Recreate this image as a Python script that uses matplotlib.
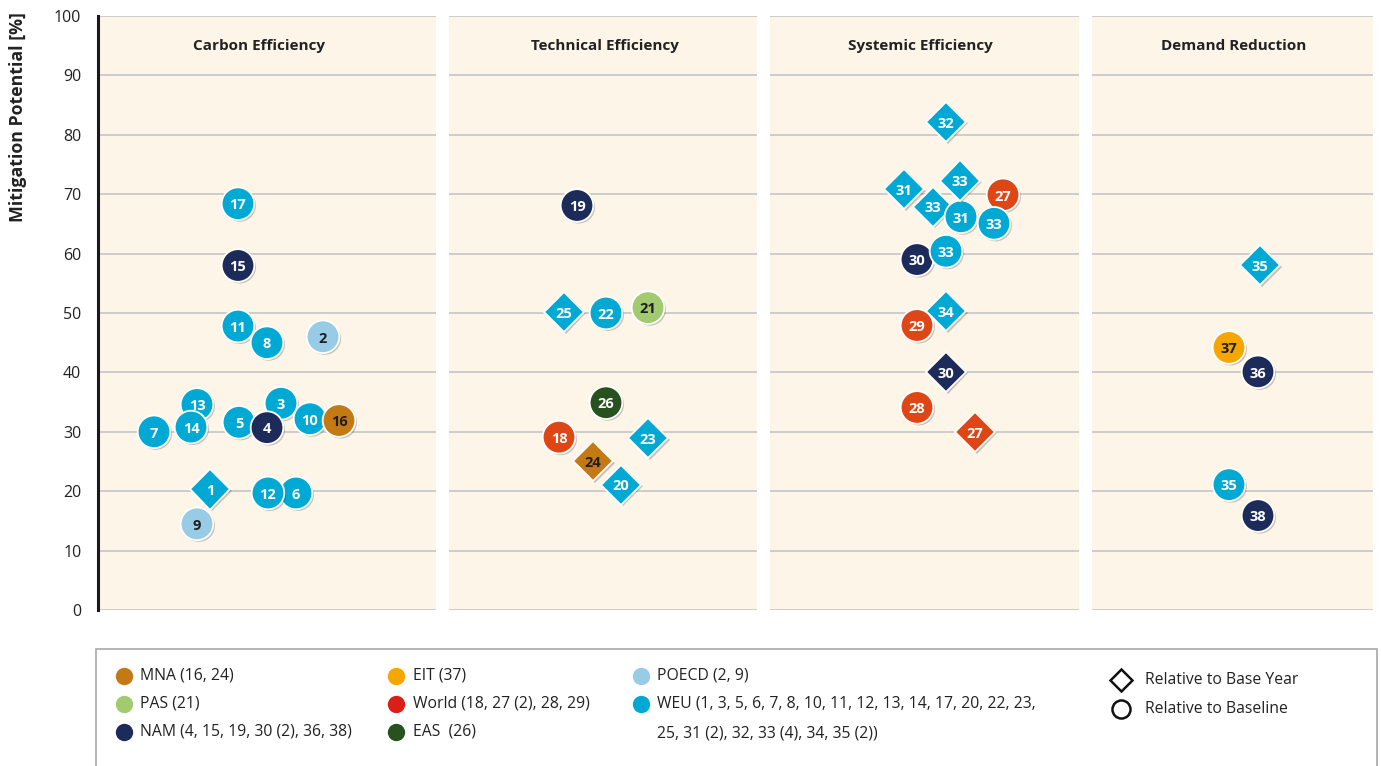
import matplotlib
matplotlib.use('Agg')
import matplotlib.pyplot as plt
import matplotlib.patheffects as pe
from matplotlib.patches import Rectangle

plt.rcParams['font.family'] = ['Open Sans', 'DejaVu Sans']

# ---------------- data ----------------
panel_titles = ['Carbon Efficiency', 'Technical Efficiency', 'Systemic Efficiency', 'Demand Reduction']

# Carbon Efficiency
ce_labels = ['17', '15', '11', '8', '2', '13', '14', '7', '3', '5', '4', '10', '16', '1', '6', '12', '9']
ce_values = [68.4, 58.0, 47.8, 45.0, 46.0, 34.6, 30.8, 30.0, 34.8, 31.6, 30.7, 32.2, 31.9, 20.3, 19.7, 19.7, 14.5]
ce_xpos = [140, 140, 140, 169, 225, 99, 93, 56, 183, 141, 169, 212, 241, 112, 198, 170, 99]
ce_region = ['WEU', 'NAM', 'WEU', 'WEU', 'POECD', 'WEU', 'WEU', 'WEU', 'WEU', 'WEU', 'NAM', 'WEU', 'MNA',
             'WEU', 'WEU', 'WEU', 'POECD']
ce_basis = ['baseline'] * 13 + ['base_year'] + ['baseline'] * 3

# Technical Efficiency
te_labels = ['19', '25', '22', '21', '26', '18', '23', '24', '20']
te_values = [68.1, 50.2, 50.0, 50.9, 34.9, 29.1, 28.9, 25.1, 21.1]
te_xpos = [128, 115, 157, 199, 157, 110, 199, 144, 172]
te_region = ['NAM', 'WEU', 'WEU', 'PAS', 'EAS', 'World', 'WEU', 'MNA', 'WEU']
te_basis = ['baseline', 'base_year', 'baseline', 'baseline', 'baseline', 'baseline', 'base_year',
            'base_year', 'base_year']

# Systemic Efficiency
se_labels = ['32', '31', '33', '31', '33', '27', '33', '30', '33', '29', '34', '30', '28', '27']
se_values = [82.2, 70.9, 67.9, 66.2, 72.3, 69.9, 65.1, 59.0, 60.4, 47.9, 50.3, 40.1, 34.1, 30.0]
se_xpos = [176, 134, 163, 191, 190, 233, 224, 147, 176, 147, 176, 176, 147, 205]
se_region = ['WEU', 'WEU', 'WEU', 'WEU', 'WEU', 'World', 'WEU', 'NAM', 'WEU', 'World', 'WEU', 'NAM',
             'World', 'World']
se_basis = ['base_year', 'base_year', 'base_year', 'baseline', 'base_year', 'baseline', 'baseline',
            'baseline', 'baseline', 'baseline', 'base_year', 'base_year', 'baseline', 'base_year']

# Demand Reduction
dr_labels = ['35', '37', '36', '35', '38']
dr_values = [58.1, 44.2, 40.1, 21.1, 15.9]
dr_xpos = [168, 137, 166, 137, 166]
dr_region = ['WEU', 'EIT', 'NAM', 'WEU', 'NAM']
dr_basis = ['base_year', 'baseline', 'baseline', 'baseline', 'baseline']

y_ticks = [0, 10, 20, 30, 40, 50, 60, 70, 80, 90, 100]

legend_cols = [
    [('MNA', 'MNA (16, 24)'), ('PAS', 'PAS (21)'), ('NAM', 'NAM (4, 15, 19, 30 (2), 36, 38)')],
    [('EIT', 'EIT (37)'), ('World', 'World (18, 27 (2), 28, 29)'), ('EAS', 'EAS  (26)')],
    [('POECD', 'POECD (2, 9)'),
     ('WEU', 'WEU (1, 3, 5, 6, 7, 8, 10, 11, 12, 13, 14, 17, 20, 22, 23,\n25, 31 (2), 32, 33 (4), 34, 35 (2))')],
]
shape_legend = [('base_year', 'Relative to Base Year'), ('baseline', 'Relative to Baseline')]

# ---------------- styles ----------------
marker_colors = {'WEU': '#00A9D3', 'NAM': '#1C2B59', 'World': '#DE4715', 'MNA': '#C47A14',
                 'PAS': '#A2CB70', 'EAS': '#27511F', 'EIT': '#F5A700', 'POECD': '#98CBE6'}
legend_colors = dict(marker_colors)
legend_colors['World'] = '#D91F18'
dark_text = {'MNA', 'PAS', 'EIT', 'POECD'}

W, H = 1381, 766
fig = plt.figure(figsize=(W / 100, H / 100), dpi=100)
fig.patch.set_facecolor('white')

panels_px = [(98, 436), (449, 757), (770, 1079), (1092, 1373)]
title_x_px = [259, 605, 920, 1234]
top_px, bot_px = 16, 610

panel_data = [
    (ce_labels, ce_values, ce_xpos, ce_region, ce_basis),
    (te_labels, te_values, te_xpos, te_region, te_basis),
    (se_labels, se_values, se_xpos, se_region, se_basis),
    (dr_labels, dr_values, dr_xpos, dr_region, dr_basis),
]

shadow = [pe.SimplePatchShadow(offset=(1.2, -1.2), shadow_rgbFace='#000000', alpha=0.22), pe.Normal()]

for i, ((l, r), title, tx, data) in enumerate(zip(panels_px, panel_titles, title_x_px, panel_data)):
    ax = fig.add_axes([l / W, 1 - bot_px / H, (r - l) / W, (bot_px - top_px) / H])
    ax.set_facecolor('#FDF5E8')
    ax.set_xlim(0, r - l)
    ax.set_ylim(0, 100)
    ax.set_yticks(y_ticks)
    ax.set_xticks([])
    for t in y_ticks:
        ax.axhline(t, color='#C9C9C9', lw=1.3, zorder=0)
    for s in ['top', 'right', 'bottom']:
        ax.spines[s].set_visible(False)
    if i == 0:
        ax.spines['left'].set_linewidth(2.2)
        ax.spines['left'].set_color('#1A1A1A')
        ax.spines['left'].set_zorder(5)
        ax.tick_params(axis='y', length=0, pad=12, labelsize=11.5, labelcolor='#222222')
    else:
        ax.spines['left'].set_visible(False)
        ax.tick_params(axis='y', length=0, labelleft=False)
    ax.text(tx - l, 95, title, ha='center', va='center', fontsize=11, fontweight='bold', color='#222222')
    labels, values, xpos, region, basis = data
    for k, (lab, v, x, reg, b) in enumerate(zip(labels, values, xpos, region, basis)):
        z = 10 + 2 * k
        if b == 'base_year':
            ax.plot([x], [v], marker='D', ms=20.5, mfc=marker_colors[reg], mec='white', mew=1.3,
                    ls='none', zorder=z, path_effects=shadow, clip_on=False)
        else:
            ax.plot([x], [v], marker='o', ms=23.5, mfc=marker_colors[reg], mec='white', mew=1.3,
                    ls='none', zorder=z, path_effects=shadow, clip_on=False)
        tc = '#1E1E1E' if reg in dark_text else 'white'
        ax.text(x, v - 0.3, lab, ha='center', va='center', fontsize=10.5, fontweight='bold', color=tc,
                zorder=z + 1)

fig.text(18 / W, 1 - 12 / H, 'Mitigation Potential [%]', rotation=90, ha='center', va='top',
         fontsize=12.8, fontweight='bold', color='#222222')

# ---------------- legend ----------------
lax = fig.add_axes([0, 0, 1, 1])
lax.set_xlim(0, W)
lax.set_ylim(H, 0)
lax.axis('off')
lax.patch.set_alpha(0)
lax.add_patch(Rectangle((96, 649), 1281, 130, facecolor='white', edgecolor='#A8A8A8', lw=1.2,
                        path_effects=[pe.SimplePatchShadow(offset=(1, -1), alpha=0.2), pe.Normal()]))
col_x = [(124, 140), (396, 413), (641, 657)]
row_y = [676, 704, 732]
for (mx, tx), items in zip(col_x, legend_cols):
    for j, (reg, txt) in enumerate(items):
        y = row_y[j]
        lax.plot([mx], [y], marker='o', ms=12.5, mfc=legend_colors[reg], mec='none', ls='none')
        for n, line in enumerate(txt.split('\n')):
            lax.text(tx, y + 29 * n, line, ha='left', va='center', fontsize=11.3, color='#222222')
for j, (b, txt) in enumerate(shape_legend):
    y = [680, 709][j]
    if b == 'base_year':
        lax.plot([1121], [y], marker='D', ms=11, mfc='white', mec='#111111', mew=1.8, ls='none')
    else:
        lax.plot([1121], [y], marker='o', ms=13, mfc='white', mec='#111111', mew=1.8, ls='none')
    lax.text(1145, y, txt, ha='left', va='center', fontsize=11.3, color='#222222')

fig.savefig('out.png', dpi=100)
